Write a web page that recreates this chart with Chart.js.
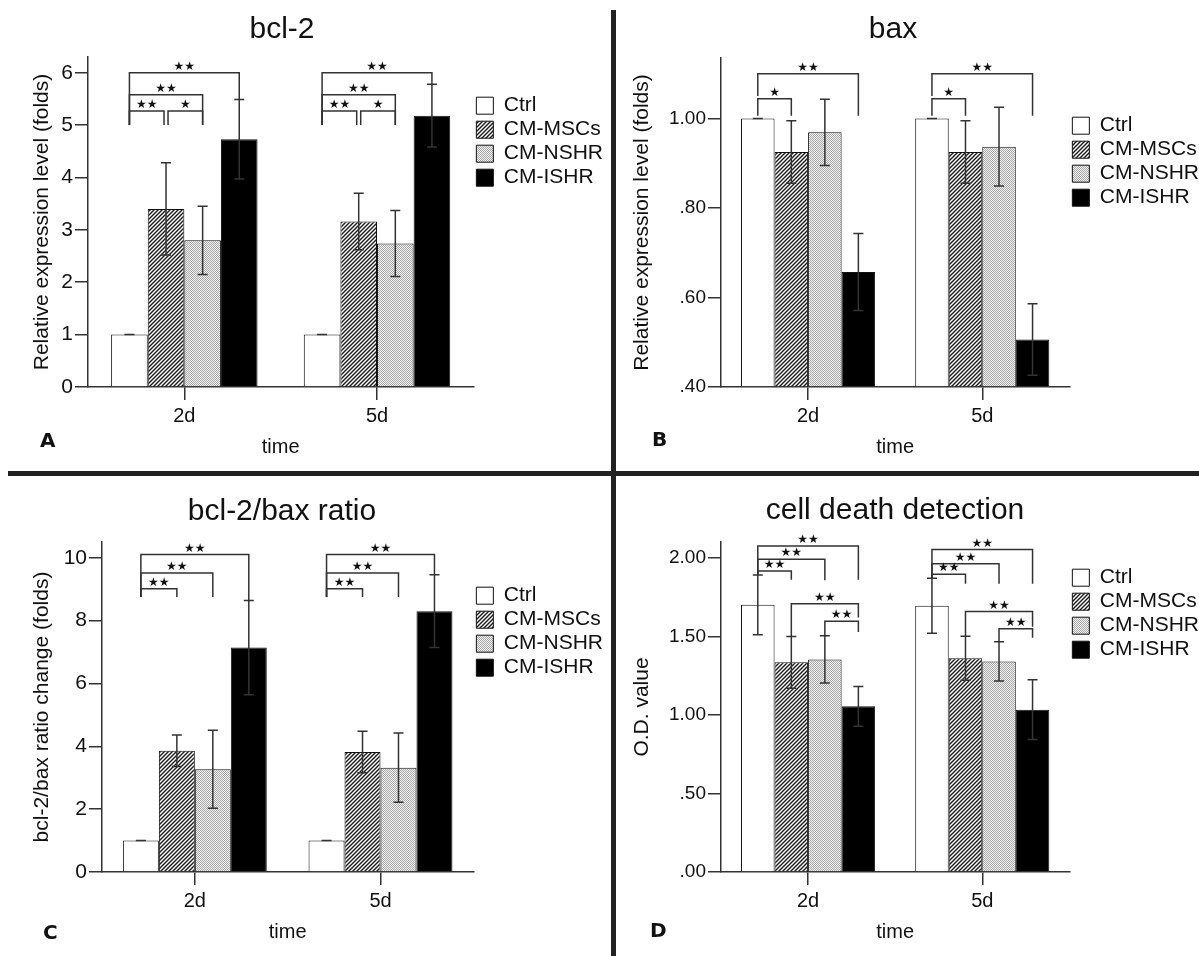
<!DOCTYPE html>
<html>
<head>
<meta charset="utf-8">
<script src="https://cdn.jsdelivr.net/npm/chart.js@4.4.0/dist/chart.umd.min.js"></script>
<style>
  html, body { margin: 0; padding: 0; background: #fff; }
  body { width: 1199px; height: 956px; position: relative; overflow: hidden; font-family: "Liberation Sans", Arial, sans-serif; }
  .painel { position: absolute; }
  .titulo { position: absolute; font-size: 30px; line-height: 30px; color: #111; transform: translateX(-50%); white-space: nowrap; }
  .letra { position: absolute; font-family: "DejaVu Sans", sans-serif; font-weight: bold; font-size: 20px; line-height: 20px; color: #111; }
  .sep { position: absolute; background: #222; }
</style>
</head>
<body>
<div class="sep" style="left:611px; top:10px; width:5px; height:946px"></div>
<div class="sep" style="left:8px; top:471px; width:1191px; height:5px"></div>

<canvas class="painel" id="graficoA" width="613" height="462" style="left:0px; top:0px"></canvas>
<canvas class="painel" id="graficoB" width="591" height="462" style="left:618px; top:0px"></canvas>
<canvas class="painel" id="graficoC" width="613" height="471" style="left:0px; top:476px"></canvas>
<canvas class="painel" id="graficoD" width="591" height="471" style="left:618px; top:476px"></canvas>

<div class="titulo" style="left:282px; top:13px">bcl-2</div>
<div class="titulo" style="left:893px; top:13px">bax</div>
<div class="titulo" style="left:282px; top:495px">bcl-2/bax ratio</div>
<div class="titulo" style="left:895px; top:494px">cell death detection</div>

<div class="letra" style="left:40px; top:430px">A</div>
<div class="letra" style="left:652px; top:429px">B</div>
<div class="letra" style="left:43px; top:922px">C</div>
<div class="letra" style="left:650px; top:920px">D</div>

<script>
// dados
var grupos = ["2d", "5d"];
var series = ["Ctrl", "CM-MSCs", "CM-NSHR", "CM-ISHR"];

// A - bcl-2
var bcl2Medias = [[1.0, 1.0], [3.40, 3.16], [2.80, 2.74], [4.73, 5.18]];
var bcl2Erros = [[0, 0], [0.88, 0.54], [0.65, 0.63], [0.76, 0.60]];
var bcl2Ticks = [0, 1, 2, 3, 4, 5, 6];
// [grupo, de, ate, nivel, base esquerda, base direita, rotulo]
var bcl2Colchetes = [
  [0, 0, 3, 6.0, 5.0, 5.49, "**"],
  [0, 0, 2, 5.58, 5.0, 5.0, "**"],
  [0, 0, 1, 5.27, 5.0, 5.0, "**"],
  [0, 1, 2, 5.27, 5.0, 5.0, "*"],
  [1, 0, 3, 6.0, 5.0, 5.78, "**"],
  [1, 0, 2, 5.58, 5.0, 5.0, "**"],
  [1, 0, 1, 5.27, 5.0, 5.0, "**"],
  [1, 1, 2, 5.27, 5.0, 5.0, "*"],
];

// B - bax
var baxMedias = [[1.0, 1.0], [0.925, 0.925], [0.969, 0.937], [0.657, 0.506]];
var baxErros = [[0, 0], [0.07, 0.07], [0.074, 0.088], [0.086, 0.08]];
var baxTicks = [0.4, 0.6, 0.8, 1.0];
var baxColchetes = [
  [0, 0, 3, 1.10, 1.05, 1.006, "**"],
  [0, 0, 1, 1.044, 1.006, 1.006, "*"],
  [1, 0, 3, 1.10, 1.05, 1.006, "**"],
  [1, 0, 1, 1.044, 1.006, 1.006, "*"],
];

// C - bcl-2/bax ratio
var razaoMedias = [[1.0, 1.0], [3.86, 3.82], [3.27, 3.32], [7.14, 8.30]];
var razaoErros = [[0, 0], [0.5, 0.66], [1.24, 1.1], [1.5, 1.16]];
var razaoTicks = [0, 2, 4, 6, 8, 10];
var razaoColchetes = [
  [0, 0, 3, 10.1, 8.75, 8.64, "**"],
  [0, 0, 2, 9.51, 8.75, 8.75, "**"],
  [0, 0, 1, 9.01, 8.75, 8.75, "**"],
  [1, 0, 3, 10.1, 8.75, 9.46, "**"],
  [1, 0, 2, 9.51, 8.75, 8.75, "**"],
  [1, 0, 1, 9.01, 8.75, 8.75, "**"],
];

// D - cell death detection
var morteMedias = [[1.70, 1.695], [1.334, 1.36], [1.353, 1.34], [1.054, 1.033]];
var morteErros = [[0.19, 0.175], [0.165, 0.14], [0.15, 0.125], [0.127, 0.19]];
var morteTicks = [0, 0.5, 1.0, 1.5, 2.0];
var morteColchetes = [
  [0, 0, 3, 2.074, 1.89, 1.86, "**"],
  [0, 0, 2, 1.99, 1.89, 1.856, "**"],
  [0, 0, 1, 1.915, 1.89, 1.86, "**"],
  [0, 1, 3, 1.707, 1.50, 1.62, "**"],
  [0, 2, 3, 1.595, 1.50, 1.527, "**"],
  [1, 0, 3, 2.053, 1.87, 1.835, "**"],
  [1, 0, 2, 1.962, 1.87, 1.835, "**"],
  [1, 0, 1, 1.894, 1.87, 1.835, "**"],
  [1, 1, 3, 1.658, 1.50, 1.56, "**"],
  [1, 2, 3, 1.548, 1.465, 1.49, "**"],
];

Chart.defaults.font.family = '"Liberation Sans", Arial, sans-serif';
Chart.defaults.color = "#111";

// padroes de preenchimento
function hachura() {
  var c = document.createElement("canvas");
  c.width = 4; c.height = 4;
  var g = c.getContext("2d");
  g.fillStyle = "#fff";
  g.fillRect(0, 0, 4, 4);
  g.strokeStyle = "#1a1a1a";
  g.lineWidth = 1.4;
  g.beginPath();
  g.moveTo(-1, 5); g.lineTo(5, -1);
  g.moveTo(-1, 1); g.lineTo(1, -1);
  g.moveTo(3, 5); g.lineTo(5, 3);
  g.stroke();
  return g.createPattern(c, "repeat");
}

function pontilhado() {
  var c = document.createElement("canvas");
  c.width = 2; c.height = 2;
  var g = c.getContext("2d");
  g.fillStyle = "#f4f4f4";
  g.fillRect(0, 0, 2, 2);
  g.fillStyle = "#a6a6a6";
  g.fillRect(0, 0, 1, 1);
  g.fillRect(1, 1, 1, 1);
  return g.createPattern(c, "repeat");
}

var preenchimentos = ["#ffffff", hachura(), pontilhado(), "#000000"];

// barras de erro desenhadas pela escala y
var barrasDeErro = {
  id: "barrasDeErro",
  afterDatasetsDraw: function (chart) {
    var ctx = chart.ctx;
    var y = chart.scales.y;
    ctx.save();
    ctx.strokeStyle = "#333";
    ctx.lineWidth = 1.5;
    chart.data.datasets.forEach(function (ds, i) {
      chart.getDatasetMeta(i).data.forEach(function (bar, j) {
        var topo = y.getPixelForValue(ds.data[j] + ds.erro[j]);
        var base = y.getPixelForValue(ds.data[j] - ds.erro[j]);
        ctx.beginPath();
        ctx.moveTo(bar.x, topo); ctx.lineTo(bar.x, base);
        ctx.moveTo(bar.x - 5, topo); ctx.lineTo(bar.x + 5, topo);
        ctx.moveTo(bar.x - 5, base); ctx.lineTo(bar.x + 5, base);
        ctx.stroke();
      });
    });
    ctx.restore();
  },
};

// colchetes de significancia
var colchetes = {
  id: "colchetes",
  afterDatasetsDraw: function (chart, args, opts) {
    var lista = opts.lista || [];
    var y = chart.scales.y;
    var ctx = chart.ctx;
    ctx.save();
    ctx.strokeStyle = "#333";
    ctx.lineWidth = 1.5;
    ctx.fillStyle = "#111";
    ctx.font = '12px "DejaVu Sans"';
    ctx.textAlign = "center";
    ctx.textBaseline = "middle";
    lista.forEach(function (c) {
      var g = c[0], a = c[1], b = c[2], nivel = c[3];
      var xa = chart.getDatasetMeta(a).data[g].x;
      var xb = chart.getDatasetMeta(b).data[g].x;
      if (lista.some(function (o) { return o[0] === g && o[3] === nivel && o[2] === a; })) xa += 2;
      if (lista.some(function (o) { return o[0] === g && o[3] === nivel && o[1] === b; })) xb -= 2;
      var yl = y.getPixelForValue(nivel);
      ctx.beginPath();
      ctx.moveTo(xa, y.getPixelForValue(c[4]));
      ctx.lineTo(xa, yl);
      ctx.lineTo(xb, yl);
      ctx.lineTo(xb, y.getPixelForValue(c[5]));
      ctx.stroke();
      ctx.fillText(c[6].replace(/\*/g, "\u2605"), (xa + xb) / 2, yl - 6);
    });
    ctx.restore();
  },
};

function doisDecimais(v) {
  return v.toFixed(2).replace(/^0\./, ".");
}

function grafico(id, cfg) {
  return new Chart(document.getElementById(id), {
    type: "bar",
    data: {
      labels: grupos,
      datasets: series.map(function (nome, i) {
        return {
          label: nome,
          data: cfg.medias[i],
          erro: cfg.erros[i],
          backgroundColor: preenchimentos[i],
          borderColor: "#111",
          borderWidth: 1,
          base: cfg.min,
          categoryPercentage: cfg.cat,
          barPercentage: 1,
        };
      }),
    },
    plugins: [barrasDeErro, colchetes],
    options: {
      responsive: false,
      animation: false,
      layout: { padding: { top: cfg.topo, left: 0, right: 0, bottom: 0 } },
      plugins: {
        legend: {
          position: "right",
          align: "start",
          fullSize: false,
          title: { display: true, text: " ", font: { size: 1 }, padding: { top: cfg.legTopo, bottom: 0 } },
          labels: { boxWidth: 17, boxHeight: 17, padding: 3, color: "#111", font: { size: 21 } },
        },
        tooltip: { enabled: false },
        colchetes: { lista: cfg.colchetes },
      },
      scales: {
        x: {
          grid: { drawOnChartArea: false, offset: false, tickLength: 13, color: "#333", lineWidth: 1.5 },
          border: { color: "#333", width: 1.5 },
          ticks: { color: "#111", font: { size: 20 }, padding: 4 },
          title: { display: true, text: "time", color: "#111", font: { size: 20 }, padding: { top: 0, bottom: 3 } },
          afterFit: function (s) { s.height = 75; },
        },
        y: {
          min: cfg.min,
          max: cfg.max,
          afterBuildTicks: function (s) {
            s.ticks = cfg.ticks.map(function (v) { return { value: v }; });
          },
          grid: { drawOnChartArea: false, tickLength: 13, color: "#333", lineWidth: 1.5 },
          border: { color: "#333", width: 1.5 },
          ticks: { color: "#111", font: { size: cfg.fonteTick }, padding: 2, callback: cfg.formato },
          title: { display: true, text: cfg.eixoY, color: "#111", font: { size: 21 }, padding: { top: cfg.tituloY, bottom: 0 } },
          afterFit: function (s) { s.width = cfg.larguraY; },
        },
      },
    },
  });
}

grafico("graficoA", {
  medias: bcl2Medias, erros: bcl2Erros, ticks: bcl2Ticks, colchetes: bcl2Colchetes,
  min: 0, max: 6.3, cat: 0.76, topo: 57, legTopo: 34, larguraY: 88, tituloY: 30, fonteTick: 21,
  eixoY: "Relative expression level (folds)",
  formato: function (v) { return String(v); },
});

grafico("graficoB", {
  medias: baxMedias, erros: baxErros, ticks: baxTicks, colchetes: baxColchetes,
  min: 0.4, max: 1.135, cat: 0.77, topo: 58, legTopo: 53, larguraY: 103, tituloY: 12, fonteTick: 19,
  eixoY: "Relative expression level (folds)",
  formato: doisDecimais,
});

grafico("graficoC", {
  medias: razaoMedias, erros: razaoErros, ticks: razaoTicks, colchetes: razaoColchetes,
  min: 0, max: 10.5, cat: 0.775, topo: 66, legTopo: 39, larguraY: 102, tituloY: 30, fonteTick: 21,
  eixoY: "bcl-2/bax ratio change (folds)",
  formato: function (v) { return String(v); },
});

grafico("graficoD", {
  medias: morteMedias, erros: morteErros, ticks: morteTicks, colchetes: morteColchetes,
  min: 0, max: 2.1, cat: 0.77, topo: 66, legTopo: 21, larguraY: 103, tituloY: 12, fonteTick: 19,
  eixoY: "O.D. value",
  formato: doisDecimais,
});
</script>
</body>
</html>
